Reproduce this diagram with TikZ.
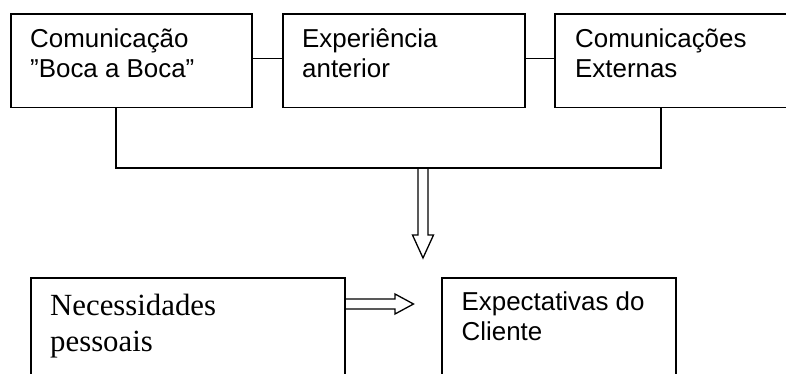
\documentclass[tikz,border=0pt]{standalone}
\usepackage{fontspec}
\setmainfont{Liberation Sans}
\newfontfamily\serifface{Liberation Serif}
\usetikzlibrary{calc}
\begin{document}
\begin{tikzpicture}[x=1pt,y=-1pt,
  box/.style={draw, line width=1.5pt, rectangle, inner sep=0pt, anchor=north west},
  lbl/.style={anchor=base west, inner sep=0pt, font=\fontsize{25.9}{31}\selectfont},
  slbl/.style={anchor=base west, inner sep=0pt, font=\serifface\fontsize{30.8}{37}\selectfont},
  conn/.style={line width=1.4pt},
  dbl/.style={line width=1.3pt, line join=miter}]
\useasboundingbox (0,0) rectangle (786,374);
\fill[white] (0,0) rectangle (786,374);
\clip (0,0) rectangle (786,374);
% top boxes
\node[box, minimum width=241pt, minimum height=93.5pt] (b1) at (10,13.5) {};
\node[box, minimum width=242pt, minimum height=93.5pt] (b2) at (282,13.5) {};
\node[box, minimum width=260pt, minimum height=93.5pt] (b3) at (554,13.5) {};
% bottom boxes
\node[box, minimum width=314pt, minimum height=110pt] (b4) at (30,277) {};
\node[box, minimum width=234pt, minimum height=110pt] (b5) at (441,277) {};
% texts
\node[lbl] (t1a) at (30,47.5) {Comunicação};
\node[lbl] (t1b) at (30,78) {"Boca a Boca”};
\node[lbl] (t2a) at (302,47.5) {Experiência};
\node[lbl] (t2b) at (302,78) {anterior};
\node[lbl] (t3a) at (575,47.5) {Comunicações};
\node[lbl] (t3b) at (575,78) {Externas};
\node[slbl] (t4a) at (50,315) {Necessidades};
\node[slbl] (t4b) at (50,351.5) {pessoais};
\node[lbl] (t5a) at (461.5,310) {Expectativas do};
\node[lbl] (t5b) at (461.5,340.5) {Cliente};
% side connectors
\draw[conn] (b1.east |- 0,58.5) -- (b2.west |- 0,58.5);
\draw[conn] (b2.east |- 0,58.5) -- (b3.west |- 0,58.5);
% bracket
\coordinate (j1) at ($(b1.south west)+(106,0)$);
\coordinate (j3) at ($(b3.south west)+(107,0)$);
\coordinate (jm) at (423,168);
\draw[conn] (j1) |- (jm) -| (j3);
% vertical double arrow
\draw[dbl] (418,168) -- (418,235) -- (412.5,235) -- (423,258) -- (433.5,235) -- (428,235) -- (428,168);
% horizontal double arrow
\coordinate (ha) at (b4.east |- 0,304);
\draw[dbl] ($(ha)+(0,-5)$) -- (395,299) -- (395,294) -- (413.5,304) -- (395,314) -- (395,309) -- ($(ha)+(0,5)$);
\end{tikzpicture}
\end{document}
